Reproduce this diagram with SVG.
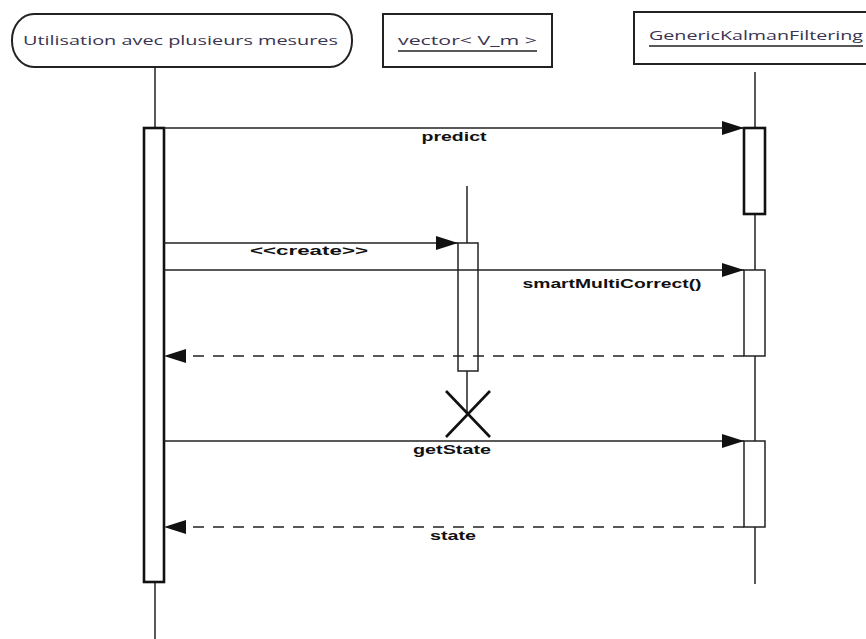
<svg xmlns="http://www.w3.org/2000/svg" width="866" height="639" viewBox="0 0 866 639">
<style>
  .hdr { fill:#fff; stroke:#222; stroke-width:2; }
  .htxt { font-family:"Open Sans","DejaVu Sans",sans-serif; font-size:13px; fill:#3a3450; }
  .uline { stroke:#222; stroke-width:1.5; }
  .life { stroke:#222; stroke-width:1.5; fill:none; }
  .actThick { fill:#fff; stroke:#111; stroke-width:2.6; }
  .act { fill:#fff; stroke:#222; stroke-width:1.5; }
  .msg { stroke:#222; stroke-width:1.6; fill:none; marker-end:url(#arr); }
  .ret { stroke:#222; stroke-width:1.6; fill:none; stroke-dasharray:11 9; marker-end:url(#arr); }
  .lbl { font-family:"Liberation Sans",Arial,sans-serif; font-weight:bold; font-size:12px; fill:#111; text-anchor:middle; }
</style>
<defs>
  <marker id="arr" markerUnits="userSpaceOnUse" markerWidth="24" markerHeight="18" refX="22" refY="8" orient="auto">
    <path d="M0,1 L22,8 L0,15 z" fill="#111"/>
  </marker>
</defs>
<rect width="866" height="639" fill="#fff"/>

<g id="lifeline-usage">
  <rect class="hdr" x="12" y="14" width="340" height="53" rx="22" ry="26"/>
  <text class="htxt" x="23" y="45" textLength="315" lengthAdjust="spacingAndGlyphs">Utilisation avec plusieurs mesures</text>
  <line class="life" x1="155" y1="67" x2="155" y2="128"/>
  <line class="life" x1="155" y1="582" x2="155" y2="639"/>
  <rect class="actThick" x="144" y="128" width="20" height="454"/>
</g>

<g id="lifeline-vector">
  <rect class="hdr" x="383" y="14" width="169" height="53"/>
  <text class="htxt" x="398" y="45" textLength="139" lengthAdjust="spacingAndGlyphs">vector&lt; V_m &gt;</text>
  <line class="uline" x1="398" y1="51" x2="537" y2="51"/>
  <line class="life" x1="467" y1="186" x2="467" y2="243"/>
  <rect class="act" x="458" y="243" width="20" height="128"/>
  <line class="life" x1="467" y1="371" x2="467" y2="414"/>
  <g id="destroy">
    <line x1="446" y1="391" x2="490" y2="437" stroke="#111" stroke-width="2.6"/>
    <line x1="490" y1="391" x2="446" y2="437" stroke="#111" stroke-width="2.6"/>
  </g>
</g>

<g id="lifeline-gkf">
  <rect class="hdr" x="634" y="12" width="240" height="52"/>
  <text class="htxt" x="649" y="40" textLength="214" lengthAdjust="spacingAndGlyphs">GenericKalmanFiltering</text>
  <line class="uline" x1="649" y1="46" x2="863" y2="46"/>
  <line class="life" x1="755" y1="72" x2="755" y2="584"/>
  <rect class="actThick" x="744" y="128" width="21" height="86"/>
  <rect class="act" x="744" y="270" width="21" height="86"/>
  <rect class="act" x="744" y="441" width="21" height="86"/>
</g>

<g id="connectors">
  <line class="msg" x1="164" y1="128" x2="744" y2="128" stroke-width="2"/>
  <text class="lbl" x="454" y="141" textLength="65" lengthAdjust="spacingAndGlyphs">predict</text>

  <line class="msg" x1="164" y1="243" x2="458" y2="243"/>
  <text class="lbl" x="309" y="255" textLength="118" lengthAdjust="spacingAndGlyphs">&lt;&lt;create&gt;&gt;</text>

  <line class="msg" x1="164" y1="270" x2="744" y2="270"/>
  <text class="lbl" x="612" y="288" textLength="179" lengthAdjust="spacingAndGlyphs">smartMultiCorrect()</text>

  <line class="ret" x1="744" y1="356" x2="164" y2="356"/>

  <line class="msg" x1="164" y1="441" x2="744" y2="441"/>
  <text class="lbl" x="452" y="454" textLength="78" lengthAdjust="spacingAndGlyphs">getState</text>

  <line class="ret" x1="744" y1="527" x2="164" y2="527"/>
  <text class="lbl" x="453" y="540" textLength="46" lengthAdjust="spacingAndGlyphs">state</text>
</g>
</svg>
